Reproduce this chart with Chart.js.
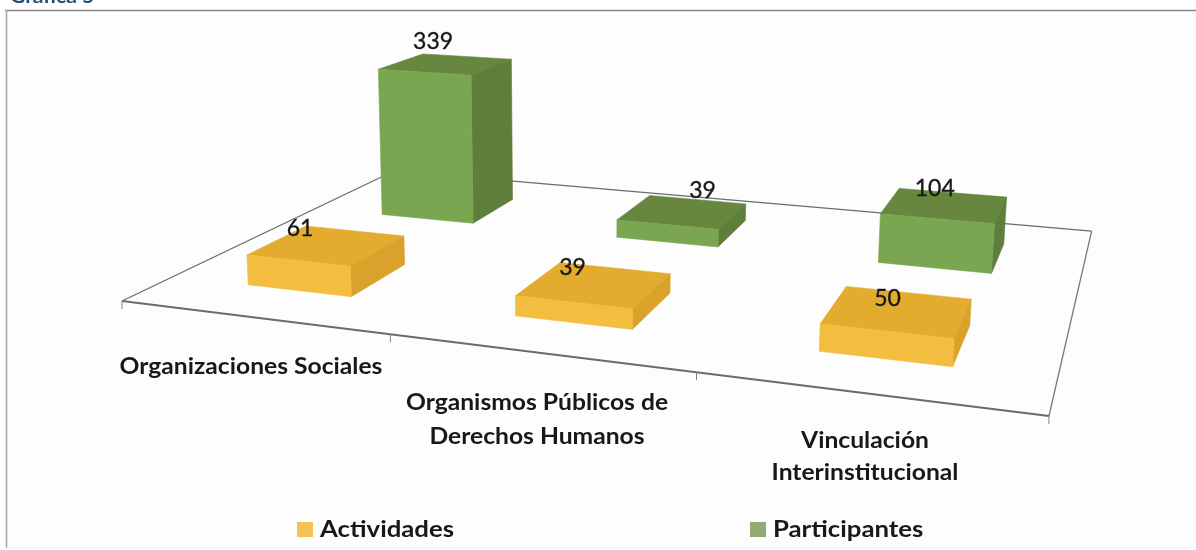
<!DOCTYPE html>
<html lang="es">
<head>
<meta charset="utf-8">
<title>Gráfica 5</title>
<script src="https://cdn.jsdelivr.net/npm/chart.js@4"></script>
<style>
html,body{margin:0;padding:0;background:#fff;overflow:hidden}
#wrap{position:relative;width:1196px;height:550px}
</style>
</head>
<body>
<div id="wrap"><canvas id="c" width="1196" height="550" style="width:1196px;height:550px"></canvas></div>
<script>
const categories = ['Organizaciones Sociales', 'Organismos Públicos de Derechos Humanos', 'Vinculación Interinstitucional'];
const actividades = [61, 39, 50];
const participantes = [339, 39, 104];
const seriesNames = ['Actividades', 'Participantes'];
const chartTitle = 'Gráfica 5';

const orange = {front:'#f3bd40', top:'#e4ac2e', side:'#daa22a', legend:'#f4c257'};
const green  = {front:'#7ba651', top:'#67873f', side:'#5e7e3b', legend:'#8dad73'};
const palettes = [orange, green];

// Perspective camera of the 3D floor: (u along categories, v in depth, z = value)
const cam = {a:732.9,b:406.9,c:122,d:38.04,e:-72,f:301,g:-0.185,h:0.3409,p:-0.04,q:-0.52,r:-0.00007};
function project(u,v,z){
  const w = cam.g*u + cam.h*v + 1 + cam.r*z;
  return {x:(cam.a*u+cam.b*v+cam.c+cam.p*z)/w, y:(cam.d*u+cam.e*v+cam.f+cam.q*z)/w};
}
function poly(ctx,pts,fill){
  ctx.beginPath();
  pts.forEach((p,i)=> i?ctx.lineTo(p.x,p.y):ctx.moveTo(p.x,p.y));
  ctx.closePath();
  ctx.fillStyle=fill; ctx.fill();
  ctx.strokeStyle=fill; ctx.lineWidth=0.6; ctx.stroke();
}
function line(ctx,a,b,w,col){
  ctx.beginPath();ctx.moveTo(a.x,a.y);ctx.lineTo(b.x,b.y);
  ctx.lineWidth=w;ctx.strokeStyle=col;ctx.stroke();
}
function wideText(ctx,t,x,y,sx){
  ctx.save();ctx.translate(x,y);ctx.scale(sx,1);ctx.fillText(t,0,0);ctx.restore();
}
const DEPTH_HALF = 0.1;
function boxOf(chart,di,el){
  const area=chart.chartArea, W=area.right-area.left;
  const uc=(el.x-area.left)/W, uh=el.width/2/W, vc=(di+0.5)/2;
  const z=chart.scales.y.getValueForPixel(el.y);
  return {u0:uc-uh,u1:uc+uh,v0:vc-DEPTH_HALF,v1:vc+DEPTH_HALF,uc,vc,z};
}
const labelOffsets = [[[-27,-17],[-22,-17],[-10,-13]],[[-13,-23],[20,-21],[-10,-17]]];
const catLabelSpots = [
  {x:251,ys:[367],lines:['Organizaciones Sociales']},
  {x:537,ys:[403,437],lines:['Organismos Públicos de','Derechos Humanos']},
  {x:865,ys:[441,473],lines:['Vinculación','Interinstitucional']}
];
const legendSpots=[{x:297,y:522},{x:750,y:522}];
const STRETCH=1.12;

const scene = {
  id:'scene',
  beforeDraw(chart){
    const ctx=chart.ctx;
    ctx.save();
    ctx.fillStyle='#ffffff';ctx.fillRect(0,0,1196,550);
    ctx.fillStyle='#fdfdfe';ctx.fillRect(7,11,1189,535);
    ctx.fillStyle='#1f4e79';ctx.font='bold 18px Lato';ctx.textAlign='left';ctx.textBaseline='alphabetic';
    wideText(ctx,chartTitle,10,3,1.17);
    line(ctx,{x:5,y:10.5},{x:1196,y:10.5},1.5,'#85888c');
    line(ctx,{x:6.5,y:10},{x:6.5,y:548},1.6,'#a9abae');
    line(ctx,{x:7,y:547.5},{x:1196,y:547.5},1,'#eef0f2');
    ctx.restore();
  },
  beforeDatasetsDraw(chart){
    const ctx=chart.ctx; ctx.save();
    const col='#666c72';
    line(ctx,project(0,0,0),project(0,1,0),1.3,col);
    line(ctx,project(0,1,0),project(1,1,0),1.3,col);
    line(ctx,project(1,1,0),project(1,0,0),1.3,'#747a80');
    line(ctx,project(0,0,0),project(1,0,0),1.8,col);
    const n=chart.data.labels.length;
    for(let i=0;i<=n;i++){
      const p=project(i/n,0,0);
      line(ctx,p,{x:p.x,y:p.y+8},1,'#7b8085');
    }
    ctx.restore();
  },
  beforeDatasetDraw(chart,args){
    const ctx=chart.ctx, pal=palettes[args.index];
    ctx.save();
    args.meta.data.forEach(el=>{
      const b=boxOf(chart,args.index,el);
      poly(ctx,[project(b.u0,b.v1,b.z),project(b.u1,b.v1,b.z),project(b.u1,b.v0,b.z),project(b.u0,b.v0,b.z)],pal.top);
      poly(ctx,[project(b.u1,b.v0,0),project(b.u1,b.v1,0),project(b.u1,b.v1,b.z),project(b.u1,b.v0,b.z)],pal.side);
      poly(ctx,[project(b.u0,b.v0,0),project(b.u1,b.v0,0),project(b.u1,b.v0,b.z),project(b.u0,b.v0,b.z)],pal.front);
    });
    ctx.restore();
    return false;
  },
  afterDatasetsDraw(chart){
    const ctx=chart.ctx; ctx.save();
    ctx.fillStyle='#17181a';ctx.strokeStyle='#17181a';ctx.lineWidth=0.35;
    ctx.textAlign='center';ctx.textBaseline='middle';
    ctx.font='23px Lato';
    chart.data.datasets.forEach((ds,di)=>{
      chart.getDatasetMeta(di).data.forEach((el,i)=>{
        const b=boxOf(chart,di,el), p=project(b.uc,b.vc,b.z), o=labelOffsets[di][i];
        ctx.fillText(String(ds.data[i]),p.x+o[0],p.y+o[1]);
        ctx.strokeText(String(ds.data[i]),p.x+o[0],p.y+o[1]);
      });
    });
    ctx.font='bold 22px Lato';
    catLabelSpots.forEach(s=>s.lines.forEach((t,k)=>wideText(ctx,t,s.x,s.ys[k],STRETCH)));
    ctx.textAlign='left';ctx.font='bold 23px Lato';
    chart.data.datasets.forEach((ds,di)=>{
      const s=legendSpots[di];
      ctx.fillStyle=palettes[di].legend;ctx.fillRect(s.x,s.y,16,15);
      ctx.fillStyle='#17181a';wideText(ctx,ds.label,s.x+23,s.y+7.5,STRETCH);
    });
    ctx.restore();
  }
};

new Chart(document.getElementById('c'),{
  type:'bar',
  data:{labels:categories,datasets:[
    {label:seriesNames[0],data:actividades,backgroundColor:orange.front},
    {label:seriesNames[1],data:participantes,backgroundColor:green.front}
  ]},
  options:{
    responsive:false,animation:false,
    layout:{padding:0},
    datasets:{bar:{grouped:false,barPercentage:0.4,categoryPercentage:1}},
    scales:{x:{display:false},y:{display:false,min:0,max:400}},
    plugins:{legend:{display:false},tooltip:{enabled:false},title:{display:false}}
  },
  plugins:[scene]
});
</script>
</body>
</html>
